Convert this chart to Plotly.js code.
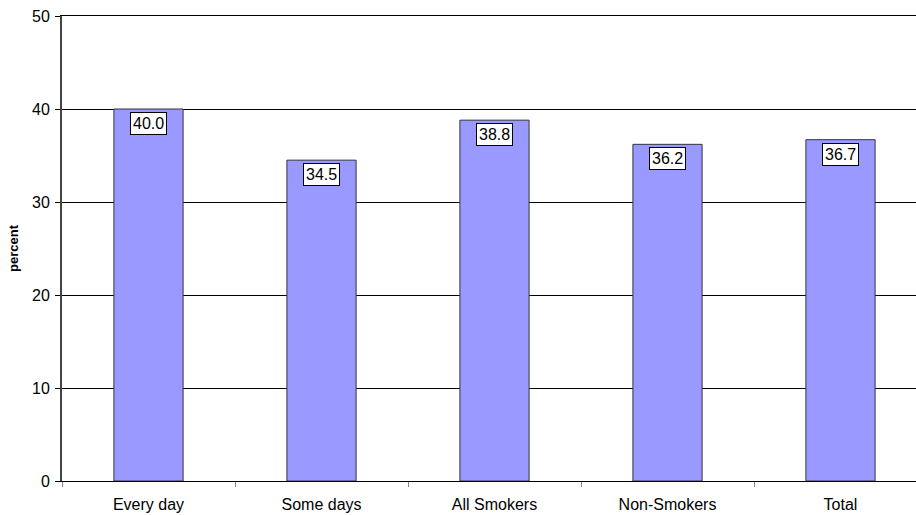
<!DOCTYPE html>
<html>
<head>
<meta charset="utf-8">
<script src="https://cdn.plot.ly/plotly-3.0.1.min.js"></script>
<style>html,body{margin:0;padding:0;background:#fff;}#chart{width:916px;height:515px;}</style>
</head>
<body>
<div id="chart"></div>
<script>
const categories = ["Every day", "Some days", "All Smokers", "Non-Smokers", "Total"];
const values = [40.0, 34.5, 38.8, 36.2, 36.7];
const labels = ["40.0", "34.5", "38.8", "36.2", "36.7"];
const yTicks = [0, 10, 20, 30, 40, 50];

const fontFam = "Liberation Sans, Arial, sans-serif";

const trace = {
  type: "bar",
  x: categories,
  y: values,
  width: 0.4,
  marker: {color: "#9999FF", line: {color: "#333344", width: 1}},
  hoverinfo: "none"
};

const annotations = categories.map((c, i) => ({
  x: c, y: values[i], xref: "x", yref: "y",
  text: labels[i], showarrow: false,
  yanchor: "top", yshift: -3,
  bgcolor: "#ffffff", bordercolor: "#000000", borderwidth: 1, borderpad: 2,
  font: {family: fontFam, size: 16, color: "#000"}
}));

const layout = {
  width: 916, height: 515,
  margin: {l: 62, r: 0, t: 16, b: 34, pad: 0},
  paper_bgcolor: "#fff", plot_bgcolor: "#fff",
  showlegend: false,
  font: {family: fontFam, size: 16, color: "#000"},
  xaxis: {
    type: "category",
    range: [-0.5, -0.5 + 854 / 173],
    showgrid: false,
    showline: true, linecolor: "#000", linewidth: 1, mirror: true,
    ticks: "outside", ticklen: 5, tickcolor: "#888",
    tickson: "boundaries",
    ticklabelstandoff: 9,
    tickfont: {family: fontFam, size: 16, color: "#000"},
    fixedrange: true
  },
  yaxis: {
    range: [0, 50],
    tickvals: yTicks,
    showgrid: true, gridcolor: "#000", gridwidth: 1,
    zeroline: false,
    showline: true, linecolor: "#444", linewidth: 2,
    ticks: "outside", ticklen: 5, tickcolor: "#000",
    ticklabelstandoff: 2,
    tickfont: {family: fontFam, size: 16, color: "#000"},
    title: {text: "<b>percent</b>", font: {family: fontFam, size: 13, color: "#000"}, standoff: 10},
    fixedrange: true
  },
  annotations: annotations
};

Plotly.newPlot("chart", [trace], layout, {staticPlot: true, displayModeBar: false});
</script>
</body>
</html>
